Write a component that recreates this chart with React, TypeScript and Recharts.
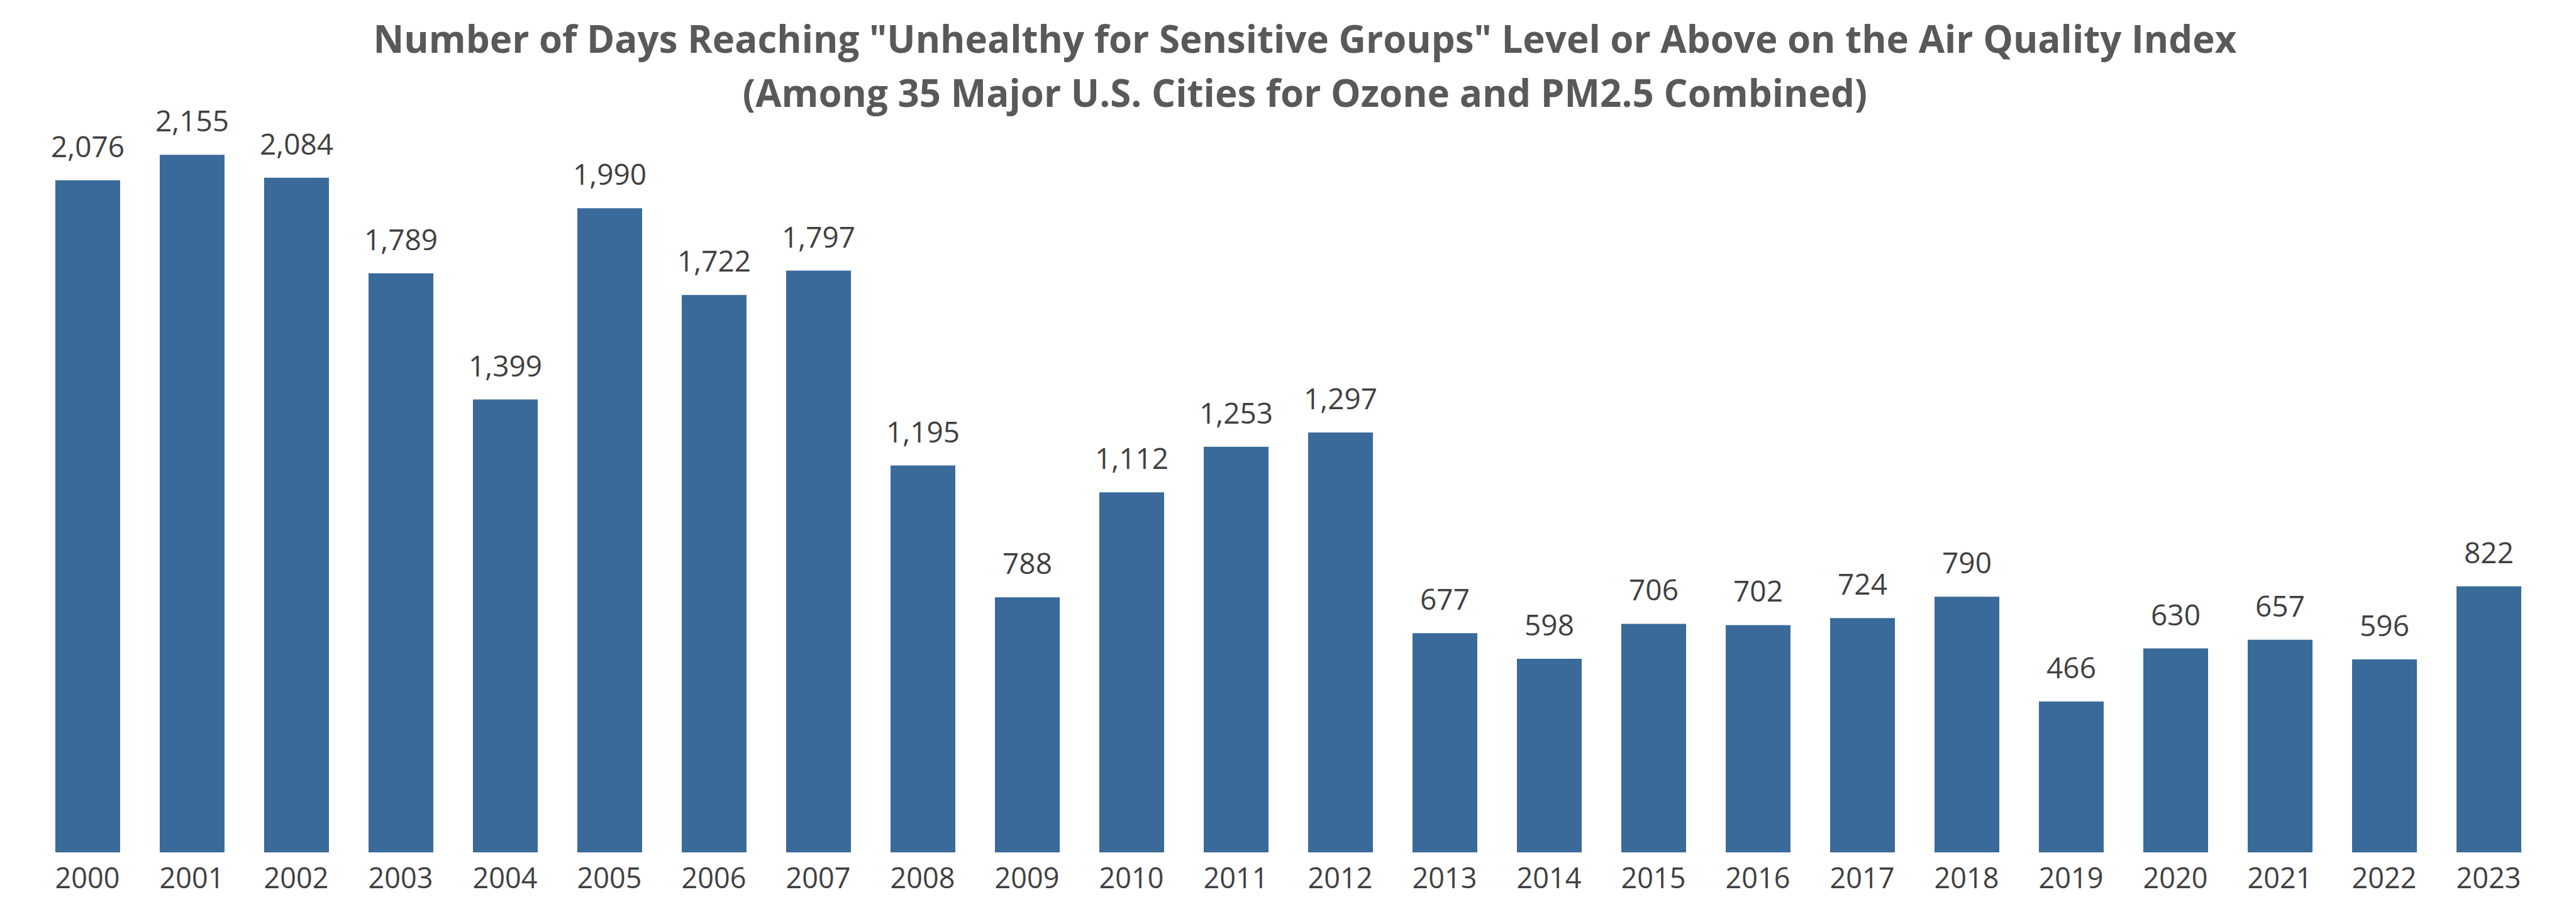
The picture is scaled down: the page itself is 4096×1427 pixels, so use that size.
import { BarChart, Bar, XAxis, YAxis, LabelList } from "recharts"

const years = [
  "2000", "2001", "2002", "2003", "2004", "2005", "2006", "2007", "2008", "2009", "2010", "2011",
  "2012", "2013", "2014", "2015", "2016", "2017", "2018", "2019", "2020", "2021", "2022", "2023",
]

const days = [
  2076, 2155, 2084, 1789, 1399, 1990, 1722, 1797, 1195, 788, 1112, 1253,
  1297, 677, 598, 706, 702, 724, 790, 466, 630, 657, 596, 822,
]

const titleLines = [
  'Number of Days Reaching "Unhealthy for Sensitive Groups" Level or Above on the Air Quality Index',
  "(Among 35 Major U.S. Cities for Ozone and PM2.5 Combined)",
]

const data = years.map((year, i) => ({ year, days: days[i] }))

const FONT = "'Open Sans', 'Noto Sans', sans-serif"

export default function App() {
  return (
    <div style={{ position: "absolute", left: 0, top: 0, width: 4096, height: 1427, background: "#fff", fontFamily: FONT }}>
      <style>{`body{margin:0}`}</style>
      <div
        style={{
          position: "absolute",
          left: 0,
          width: 4150,
          top: 18,
          textAlign: "center",
          color: "#595959",
          fontWeight: 700,
          fontSize: 60,
          lineHeight: "86px",
        }}
      >
        {titleLines.map((t) => (
          <div key={t}>{t}</div>
        ))}
      </div>
      <BarChart
        width={4096}
        height={1427}
        data={data}
        margin={{ top: 120, right: 56, left: 56, bottom: 0 }}
        barSize={103}
        style={{ position: "absolute", left: 0, top: 0 }}
      >
        <XAxis
          dataKey="year"
          axisLine={false}
          tickLine={false}
          tickSize={0}
          tickMargin={25}
          height={71}
          interval={0}
          tick={{ fill: "#404040", fontSize: 45, fontFamily: FONT }}
        />
        <YAxis hide domain={[0, 2400]} />
        <Bar dataKey="days" fill="#3A6A9A" isAnimationActive={false}>
          <LabelList
            dataKey="days"
            position="top"
            offset={37}
            fill="#404040"
            fontSize={46}
            fontFamily={FONT}
            formatter={(v: any) => Number(v).toLocaleString("en-US")}
          />
        </Bar>
      </BarChart>
    </div>
  )
}
